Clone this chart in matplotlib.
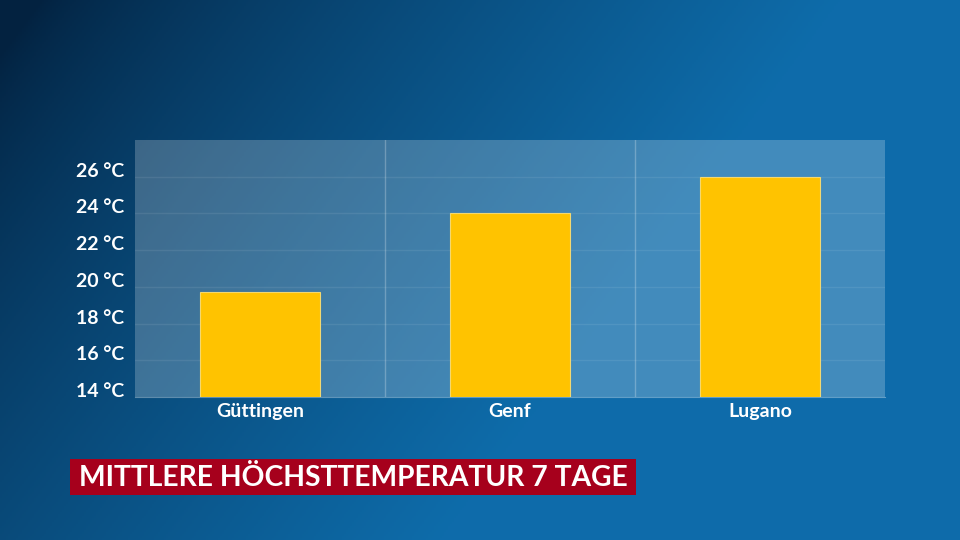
import numpy as np
import matplotlib
matplotlib.use("Agg")
from matplotlib import pyplot as plt
from matplotlib import transforms
from matplotlib.patches import Rectangle

# Data
cities = ["Güttingen", "Genf", "Lugano"]
temps = [19.7, 24.0, 26.0]
y_ticks = [14, 16, 18, 20, 22, 24, 26]
tick_labels = [f"{t} °C" for t in y_ticks]
title = "MITTLERE HÖCHSTTEMPERATUR 7 TAGE"

plt.rcParams['font.family'] = ['Lato', 'DejaVu Sans']

fig = plt.figure(figsize=(9.6, 5.4), dpi=100)

# Background gradient (dark navy top-left to blue right)
bg = fig.add_axes([0, 0, 1, 1])
gx, gy = np.meshgrid(np.linspace(0, 1, 480), np.linspace(0, 1, 270))
t = np.clip(gx * 1.2 + gy * 0.5 - 0.05, 0, 1) ** 0.75
dark = np.array([0x03, 0x22, 0x40]) / 255
light = np.array([0x0e, 0x6c, 0xaa]) / 255
img = dark[None, None, :] + (light - dark)[None, None, :] * t[:, :, None]
bg.imshow(img, aspect='auto', extent=[0, 1, 0, 1], origin='upper')
bg.set_xlim(0, 1)
bg.set_ylim(0, 1)
bg.axis('off')

# Title box
bg.add_patch(Rectangle((70 / 960, 1 - 495 / 540), 566 / 960, 36 / 540,
                       facecolor='#a6001c', edgecolor='none'))
ttl = bg.text(79 / 960, 1 - 478 / 540, title, color='white', fontsize=22,
              fontweight='bold', va='center', ha='left')
# shrink title to fit the red box
renderer = fig.canvas.get_renderer()
w = ttl.get_window_extent(renderer).width
target = 550
if w > target:
    ttl.set_fontsize(22 * target / w)

# Chart area
ax = fig.add_axes([135 / 960, 1 - 397 / 540, 750 / 960, 257 / 540])
ax.patch.set_facecolor('white')
ax.patch.set_alpha(0.22)
x = np.arange(len(cities))
ax.bar(x, [v - 14 for v in temps], bottom=14, width=0.48, color='#ffc300',
       edgecolor='#f3d870', linewidth=0.8, zorder=3)
ax.set_xlim(-0.5, len(cities) - 0.5)
ax.set_ylim(14, 28)

ax.set_yticks(y_ticks)
ax.set_yticklabels(tick_labels)
ax.set_xticks(x)
ax.set_xticklabels(cities)
ax.tick_params(axis='both', length=0, colors='white', labelsize=14)
ax.tick_params(axis='y', pad=8)
ax.tick_params(axis='x', pad=4)
for lbl in ax.get_yticklabels() + ax.get_xticklabels():
    lbl.set_fontweight('bold')
off = transforms.ScaledTranslation(0, 7 / 100, fig.dpi_scale_trans)
for lbl in ax.get_yticklabels():
    lbl.set_transform(lbl.get_transform() + off)

for yv in y_ticks[1:]:
    ax.axhline(yv, color='white', alpha=0.08, linewidth=1, zorder=1)
for xv in x[1:]:
    ax.axvline(xv - 0.5, color='white', alpha=0.25, linewidth=1, zorder=1)

for s in ['top', 'right', 'left']:
    ax.spines[s].set_visible(False)
ax.spines['bottom'].set_color('white')
ax.spines['bottom'].set_alpha(0.35)

fig.savefig("out.png", dpi=100)
